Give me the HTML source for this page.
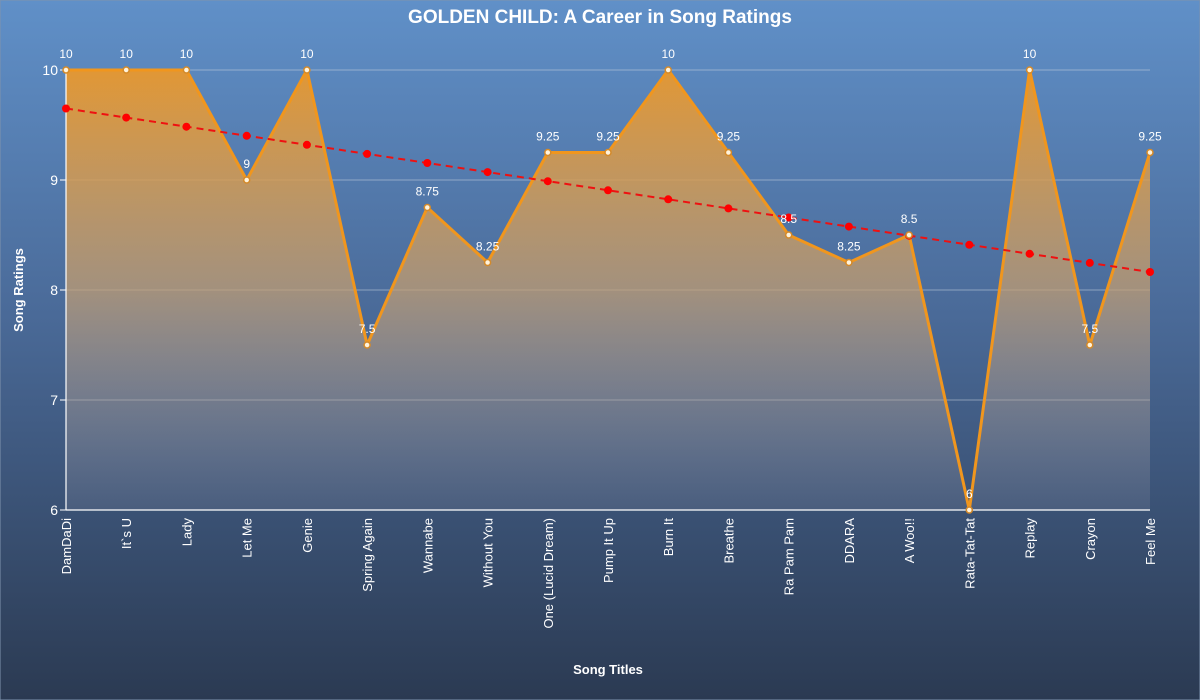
<!DOCTYPE html>
<html><head><meta charset="utf-8"><style>
html,body{margin:0;padding:0;width:1200px;height:700px;overflow:hidden}
svg{display:block;font-family:"Liberation Sans","DejaVu Sans",sans-serif}
</style></head><body>
<svg width="1200" height="700" viewBox="0 0 1200 700">
<defs>
<linearGradient id="bg" x1="0" y1="0" x2="0" y2="1">
<stop offset="0" stop-color="#6090c8"/><stop offset="0.45" stop-color="#4a6a98"/><stop offset="1" stop-color="#2b3a52"/>
</linearGradient>
<linearGradient id="ar" x1="0" y1="70" x2="0" y2="510" gradientUnits="userSpaceOnUse">
<stop offset="0" stop-color="#e8982e" stop-opacity="0.95"/><stop offset="0.5" stop-color="#c8a070" stop-opacity="0.7"/><stop offset="1" stop-color="#a0a0b0" stop-opacity="0.15"/>
</linearGradient>
</defs>
<rect width="1200" height="700" fill="url(#bg)" stroke="#7f93ad"/>
<text x="600" y="23" fill="#fff" font-size="19" font-weight="bold" text-anchor="middle">GOLDEN CHILD: A Career in Song Ratings</text>
<g stroke="#c9d2de" stroke-width="0.7" opacity="0.7">
<line x1="66" x2="1150" y1="70" y2="70"/><line x1="66" x2="1150" y1="180" y2="180"/><line x1="66" x2="1150" y1="290" y2="290"/><line x1="66" x2="1150" y1="400" y2="400"/>
</g>
<path d="M66,510 L66,70 126.2,70 186.4,70 246.7,180 306.9,70 367.1,345 427.3,207.5 487.6,262.5 547.8,152.5 608,152.5 668.2,70 728.4,152.5 788.7,235 848.9,262.5 909.1,235 969.3,510 1029.6,70 1089.8,345 1150,152.5 L1150,510Z" fill="url(#ar)"/>
<line x1="66" y1="68" x2="66" y2="510" stroke="#fff" stroke-width="1.2"/>
<line x1="66" y1="510" x2="1150" y2="510" stroke="#fff" stroke-width="1.2"/>
<g stroke="#fff"><line x1="60" x2="66" y1="70" y2="70"/><line x1="60" x2="66" y1="180" y2="180"/><line x1="60" x2="66" y1="290" y2="290"/><line x1="60" x2="66" y1="400" y2="400"/><line x1="60" x2="66" y1="510" y2="510"/></g>
<g fill="#fff" font-size="14" text-anchor="end"><text x="58" y="75">10</text><text x="58" y="185">9</text><text x="58" y="295">8</text><text x="58" y="405">7</text><text x="58" y="515">6</text></g>
<polyline points="66,70 126.2,70 186.4,70 246.7,180 306.9,70 367.1,345 427.3,207.5 487.6,262.5 547.8,152.5 608,152.5 668.2,70 728.4,152.5 788.7,235 848.9,262.5 909.1,235 969.3,510 1029.6,70 1089.8,345 1150,152.5" fill="none" stroke="#f0961e" stroke-width="3" stroke-linejoin="round"/>
<line x1="66" y1="108.5" x2="1150" y2="272" stroke="#ee1111" stroke-width="2" stroke-dasharray="7,5"/>
<g fill="#ff0000">
<circle cx="66" cy="108.5" r="4"/><circle cx="126.2" cy="117.6" r="4"/><circle cx="186.4" cy="126.7" r="4"/><circle cx="246.7" cy="135.8" r="4"/><circle cx="306.9" cy="144.8" r="4"/><circle cx="367.1" cy="153.9" r="4"/><circle cx="427.3" cy="163" r="4"/><circle cx="487.6" cy="172.1" r="4"/><circle cx="547.8" cy="181.2" r="4"/><circle cx="608" cy="190.3" r="4"/><circle cx="668.2" cy="199.3" r="4"/><circle cx="728.4" cy="208.4" r="4"/><circle cx="788.7" cy="217.5" r="4"/><circle cx="848.9" cy="226.6" r="4"/><circle cx="909.1" cy="235.7" r="4"/><circle cx="969.3" cy="244.8" r="4"/><circle cx="1029.6" cy="253.8" r="4"/><circle cx="1089.8" cy="262.9" r="4"/><circle cx="1150" cy="272" r="4"/>
</g>
<g fill="#fff3dc" stroke="#d48a2a" stroke-width="1.5">
<circle cx="66" cy="70" r="3"/><circle cx="126.2" cy="70" r="3"/><circle cx="186.4" cy="70" r="3"/><circle cx="246.7" cy="180" r="3"/><circle cx="306.9" cy="70" r="3"/><circle cx="367.1" cy="345" r="3"/><circle cx="427.3" cy="207.5" r="3"/><circle cx="487.6" cy="262.5" r="3"/><circle cx="547.8" cy="152.5" r="3"/><circle cx="608" cy="152.5" r="3"/><circle cx="668.2" cy="70" r="3"/><circle cx="728.4" cy="152.5" r="3"/><circle cx="788.7" cy="235" r="3"/><circle cx="848.9" cy="262.5" r="3"/><circle cx="909.1" cy="235" r="3"/><circle cx="969.3" cy="510" r="3"/><circle cx="1029.6" cy="70" r="3"/><circle cx="1089.8" cy="345" r="3"/><circle cx="1150" cy="152.5" r="3"/>
</g>
<g fill="#fff" font-size="12" text-anchor="middle">
<text x="66" y="58">10</text><text x="126.2" y="58">10</text><text x="186.4" y="58">10</text><text x="246.7" y="168">9</text><text x="306.9" y="58">10</text><text x="367.1" y="333">7.5</text><text x="427.3" y="195.5">8.75</text><text x="487.6" y="250.5">8.25</text><text x="547.8" y="140.5">9.25</text><text x="608" y="140.5">9.25</text><text x="668.2" y="58">10</text><text x="728.4" y="140.5">9.25</text><text x="788.7" y="223">8.5</text><text x="848.9" y="250.5">8.25</text><text x="909.1" y="223">8.5</text><text x="969.3" y="498">6</text><text x="1029.6" y="58">10</text><text x="1089.8" y="333">7.5</text><text x="1150" y="140.5">9.25</text>
</g>
<g fill="#fff" font-size="13" text-anchor="end">
<text transform="translate(71,518) rotate(-90)">DamDaDi</text>
<text transform="translate(131.2,518) rotate(-90)">It`s U</text>
<text transform="translate(191.4,518) rotate(-90)">Lady</text>
<text transform="translate(251.7,518) rotate(-90)">Let Me</text>
<text transform="translate(311.9,518) rotate(-90)">Genie</text>
<text transform="translate(372.1,518) rotate(-90)">Spring Again</text>
<text transform="translate(432.3,518) rotate(-90)">Wannabe</text>
<text transform="translate(492.6,518) rotate(-90)">Without You</text>
<text transform="translate(552.8,518) rotate(-90)">One (Lucid Dream)</text>
<text transform="translate(613,518) rotate(-90)">Pump It Up</text>
<text transform="translate(673.2,518) rotate(-90)">Burn It</text>
<text transform="translate(733.4,518) rotate(-90)">Breathe</text>
<text transform="translate(793.7,518) rotate(-90)">Ra Pam Pam</text>
<text transform="translate(853.9,518) rotate(-90)">DDARA</text>
<text transform="translate(914.1,518) rotate(-90)">A Woo!!</text>
<text transform="translate(974.3,518) rotate(-90)">Rata-Tat-Tat</text>
<text transform="translate(1034.6,518) rotate(-90)">Replay</text>
<text transform="translate(1094.8,518) rotate(-90)">Crayon</text>
<text transform="translate(1155,518) rotate(-90)">Feel Me</text>
</g>
<text x="608" y="674" fill="#fff" font-size="13" font-weight="bold" text-anchor="middle">Song Titles</text>
<text transform="translate(23,290) rotate(-90)" fill="#fff" font-size="13" font-weight="bold" text-anchor="middle">Song Ratings</text>
</svg>
</body></html>
